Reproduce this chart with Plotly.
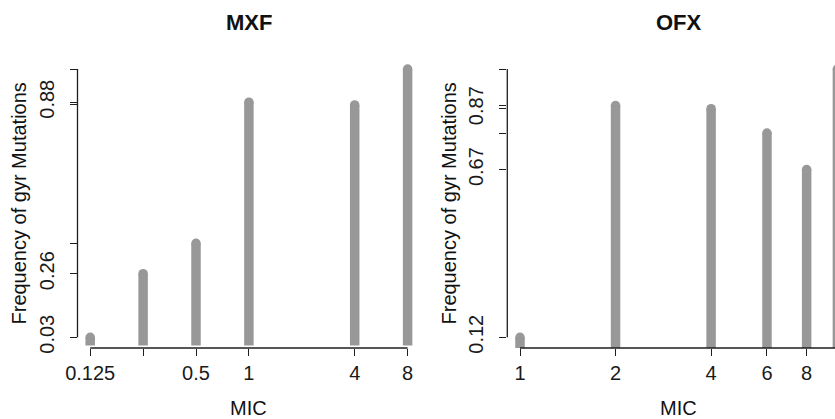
import plotly.graph_objects as go
import math

# ---- data ----
mic_mxf = [0.125, 0.25, 0.5, 1, 4, 8]
freq_mxf = [0.03, 0.26, 0.37, 0.88, 0.87, 1.00]
mxf_xtick_text = ["0.125", "", "0.5", "1", "4", "8"]
mxf_ytick_vals = [0.03, 0.26, 0.37, 0.87, 0.88, 1.00]
mxf_ytick_text = ["0.03", "0.26", "", "", "0.88", ""]

mic_ofx = [1, 2, 4, 6, 8, 10]
freq_ofx = [0.12, 0.88, 0.87, 0.79, 0.67, 1.00]
ofx_xtick_text = ["1", "2", "4", "6", "8", "10"]
ofx_ytick_vals = [0.12, 0.67, 0.79, 0.87, 0.88, 1.00]
ofx_ytick_text = ["0.12", "0.67", "", "0.87", "", ""]

W, H = 835, 419
BAR = "#989898"
AX = "#1e1e1e"
FONT = "Liberation Sans, Arial, sans-serif"
FS = 20


def r_range(lo, hi):
    d = hi - lo
    return [lo - 0.04 * d, hi + 0.04 * d]


def stems(xs, ys):
    lx, ly = [], []
    for x, y in zip(xs, ys):
        lx += [x, x, None]
        ly += [0, y, None]
    return lx, ly


fig = go.Figure()

panels = [
    ("x", "y", mic_mxf, freq_mxf),
    ("x2", "y2", mic_ofx, freq_ofx),
]
for xa, ya, xs, ys in panels:
    lx, ly = stems(xs, ys)
    fig.add_trace(go.Scatter(x=lx, y=ly, mode="lines", xaxis=xa, yaxis=ya,
                             line=dict(color=BAR, width=9.5), hoverinfo="skip",
                             showlegend=False))
    fig.add_trace(go.Scatter(x=xs, y=ys, mode="markers", xaxis=xa, yaxis=ya,
                             marker=dict(color=BAR, size=9.5, line=dict(width=0)),
                             showlegend=False))

# pixel geometry (plot regions)
ytop, ybot = 58.3, 348.0
mxf_l, mxf_r = 77.5, 420.3
ofx_l = 507.3

mxf_xr = r_range(math.log10(min(mic_mxf)), math.log10(max(mic_mxf)))
ofx_full = r_range(math.log10(min(mic_ofx)), math.log10(max(mic_ofx)))
ofx_pxw = mxf_r - mxf_l
ofx_right_visible = ofx_full[0] + (ofx_full[1] - ofx_full[0]) * (W - ofx_l) / ofx_pxw

ydom = [1 - ybot / H, 1 - ytop / H]

common_x = dict(type="log", showline=False, showgrid=False, zeroline=False,
                automargin=False,
                ticks="outside", ticklen=7, tickwidth=1.3, tickcolor=AX,
                tickfont=dict(family=FONT, size=FS, color="#1a1a1a"))
common_y = dict(showline=False, showgrid=False, zeroline=False,
                automargin=False,
                ticks="outside", ticklen=7, tickwidth=1.3, tickcolor=AX,
                tickangle=-90, ticklabelstandoff=8,
                tickfont=dict(family=FONT, size=FS, color="#1a1a1a"))

fig.update_layout(
    width=W, height=H, margin=dict(l=0, r=0, t=0, b=0, autoexpand=False),
    paper_bgcolor="white", plot_bgcolor="white",
    xaxis=dict(common_x, domain=[mxf_l / W, mxf_r / W], range=mxf_xr, anchor="y",
               tickvals=mic_mxf, ticktext=mxf_xtick_text),
    yaxis=dict(common_y, domain=ydom, range=r_range(min(freq_mxf), max(freq_mxf)),
               anchor="x", tickvals=mxf_ytick_vals, ticktext=mxf_ytick_text),
    xaxis2=dict(common_x, domain=[ofx_l / W, 1.0], range=[ofx_full[0], ofx_right_visible],
                anchor="y2", tickvals=mic_ofx, ticktext=ofx_xtick_text),
    yaxis2=dict(common_y, domain=ydom, range=r_range(min(freq_ofx), max(freq_ofx)),
                anchor="x2", tickvals=ofx_ytick_vals, ticktext=ofx_ytick_text),
)

# R-style axis lines spanning first to last tick
fig.add_shape(type="line", xref="x domain", yref="y", x0=0, x1=0,
              y0=min(mxf_ytick_vals), y1=max(mxf_ytick_vals), line=dict(color=AX, width=1.3))
fig.add_shape(type="line", xref="x", yref="y domain", x0=min(mic_mxf), x1=max(mic_mxf),
              y0=0, y1=0, line=dict(color=AX, width=1.3))
fig.add_shape(type="line", xref="x2 domain", yref="y2", x0=0, x1=0,
              y0=min(ofx_ytick_vals), y1=max(ofx_ytick_vals), line=dict(color=AX, width=1.3))
fig.add_shape(type="line", xref="x2", yref="y2 domain", x0=min(mic_ofx), x1=max(mic_ofx),
              y0=0, y1=0, line=dict(color=AX, width=1.3))

mxf_cx = (mxf_l + mxf_r) / 2 / W
ofx_cx = (ofx_l + ofx_l + ofx_pxw) / 2 / W
ann = [
    dict(text="<b>MXF</b>", x=mxf_cx, y=1 - 22.5 / H, size=22),
    dict(text="<b>OFX</b>", x=ofx_cx, y=1 - 22.5 / H, size=22),
    dict(text="MIC", x=mxf_cx, y=1 - 408 / H, size=FS),
    dict(text="MIC", x=ofx_cx, y=1 - 408 / H, size=FS),
]
for a in ann:
    fig.add_annotation(text=a["text"], x=a["x"], y=a["y"], xref="paper", yref="paper",
                       xanchor="center", yanchor="middle", showarrow=False,
                       font=dict(family=FONT, size=a["size"], color="#111"))
for xp in [19 / W, 449 / W]:
    fig.add_annotation(text="Frequency of gyr Mutations", x=xp, y=1 - 203.5 / H,
                       xref="paper", yref="paper", xanchor="center", yanchor="middle",
                       textangle=-90, showarrow=False,
                       font=dict(family=FONT, size=FS, color="#111"))

fig.write_html("out.html", config={"displayModeBar": False},
               post_script="document.body.style.margin='0';document.body.style.overflow='hidden';")
